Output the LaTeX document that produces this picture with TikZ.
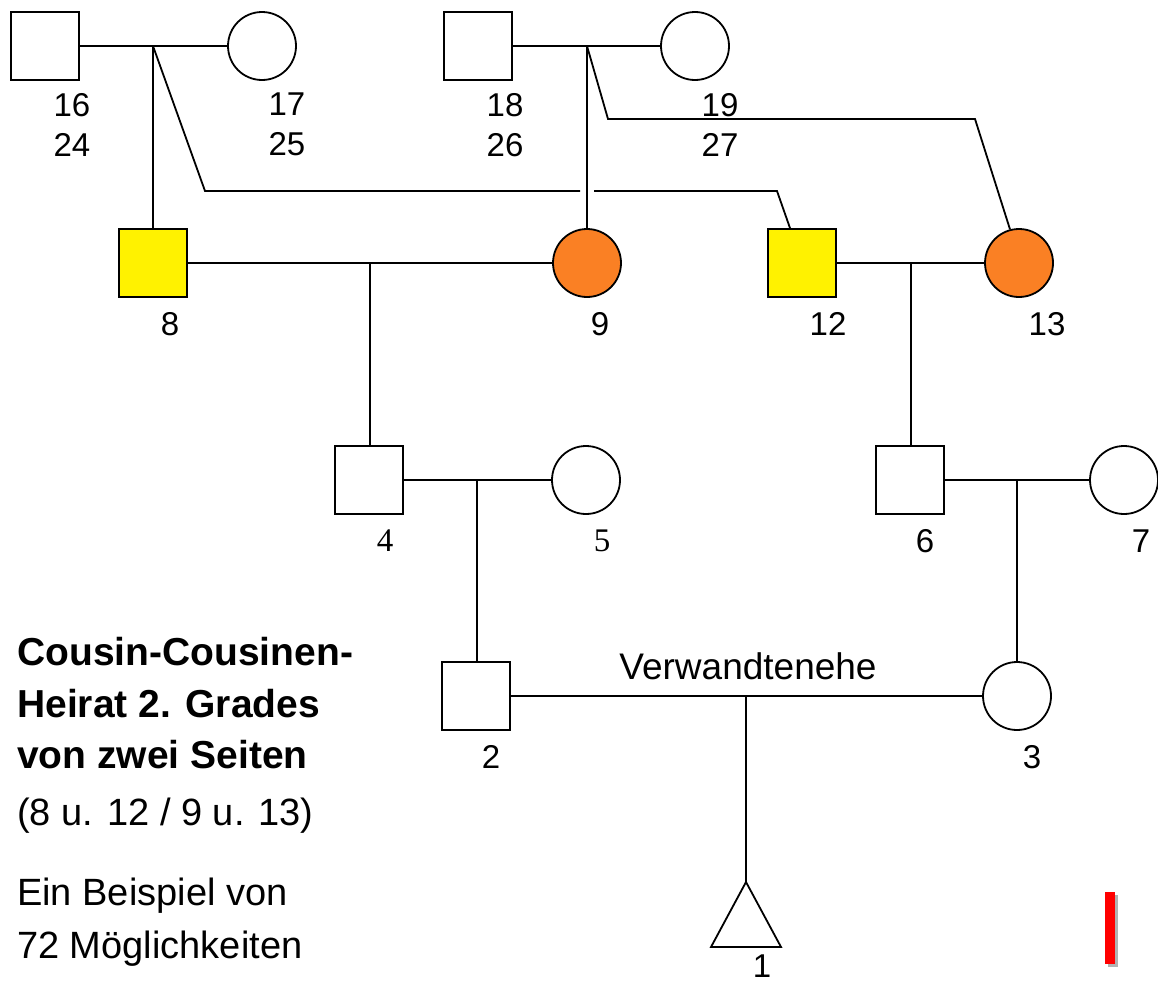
\documentclass[tikz,border=0pt]{standalone}
\usepackage{fontspec}
\setmainfont{Liberation Sans}
\newfontfamily\serifnum{Liberation Serif}
\usepackage{xcolor}
\definecolor{genyellow}{RGB}{255,242,0}
\definecolor{genorange}{RGB}{250,128,36}

\tikzset{
  male/.style={draw, rectangle, minimum size=68pt, inner sep=0pt, line width=1.8pt},
  female/.style={draw, circle, minimum size=68pt, inner sep=0pt, line width=1.8pt},
  num/.style={inner sep=0pt, font=\fontsize{33}{40}\selectfont, align=center},
  rel/.style={line width=1.8pt},
  note/.style={inner sep=0pt, anchor=base west, font=\fontsize{38}{46}\selectfont},
}

\begin{document}
\begin{tikzpicture}[x=1pt,y=-1pt]
\useasboundingbox (0,0) rectangle (1158,985);

% great-grandparents
\node[male] (n16) at (45,46) {};
\node[female] (n17) at (262,46) {};
\node[male] (n18) at (478,46) {};
\node[female] (n19) at (695,46) {};
\node[num,anchor=north] (l16) at (72,93) {16\\24};
\node[num,anchor=north] (l17) at (287,93) {17\\25};
\node[num,anchor=north] (l18) at (505,93) {18\\26};
\node[num,anchor=north] (l19) at (720,93) {19\\27};

% grandparents
\node[male,fill=genyellow] (n8) at (153,263) {};
\node[female,fill=genorange] (n9) at (587,263) {};
\node[male,fill=genyellow] (n12) at (802,263) {};
\node[female,fill=genorange] (n13) at (1019,263) {};
\node[num] (l8) at (170,324) {8};
\node[num] (l9) at (600,324) {9};
\node[num] (l12) at (828,324) {12};
\node[num] (l13) at (1047,324) {13};

% parents
\node[male] (n4) at (369,480) {};
\node[female] (n5) at (586,480) {};
\node[male] (n6) at (910,480) {};
\node[female] (n7) at (1124,480) {};
\node[num,font=\fontsize{33}{40}\serifnum] (l4) at (385,541) {4};
\node[num,font=\fontsize{33}{40}\serifnum] (l5) at (602,541) {5};
\node[num] (l6) at (925,541) {6};
\node[num] (l7) at (1141,541) {7};

% consanguineous couple and child
\node[male] (n2) at (476,696) {};
\node[female] (n3) at (1017,696) {};
\node[num] (l2) at (491,757) {2};
\node[num] (l3) at (1032,757) {3};
\node[inner sep=0pt, anchor=base, font=\fontsize{37}{44}\selectfont] (ehe) at (748,679) {Verwandtenehe};
\coordinate (n1) at (746,882);
\draw[rel, line join=miter] (n1) -- (711,947) -- (781,947) -- cycle;
\node[num] (l1) at (762,966) {1};

% marriage lines
\coordinate (m1617) at (153,46);
\coordinate (m1819) at (587,46);
\coordinate (m89) at (370,263);
\coordinate (m1213) at (911,263);
\coordinate (m45) at (477,480);
\coordinate (m67) at (1017,480);
\coordinate (m23) at (746,696);
\draw[rel] (n16) -- (n17);
\draw[rel] (n18) -- (n19);
\draw[rel] (n8) -- (n9);
\draw[rel] (n12) -- (n13);
\draw[rel] (n4) -- (n5);
\draw[rel] (n6) -- (n7);
\draw[rel] (n2) -- (n3);

% descent lines
\draw[rel] (m1617) -- (n8.north);
\draw[rel] (m1617) -- (205,191) -- (580,191);
\draw[rel] (594,191) -- (777,191) -- ([xshift=-12pt]n12.north);
\draw[rel] (m1819) -- (n9.north);
\draw[rel] (m1819) -- (608,119) -- (975,119) -- (n13.105);
\draw[rel] (m89) -- (n4.north -| m89);
\draw[rel] (m1213) -- (n6.north -| m1213);
\draw[rel] (m45) -- (n2.north -| m45);
\draw[rel] (m67) -- (n3.north);
\draw[rel] (m23) -- (n1);

% caption
\node[note,font=\fontsize{39}{46}\bfseries] (t1) at (17,665) {Cousin-Cousinen-};
\node[note,font=\fontsize{39}{46}\bfseries] (t2) at (17,717) {Heirat 2. Grades};
\node[note,font=\fontsize{39}{46}\bfseries] (t3) at (17,768) {von zwei Seiten};
\node[note] (t4) at (17,825) {(8 u. 12 / 9 u. 13)};
\node[note] (t5) at (17,905) {Ein Beispiel von};
\node[note] (t6) at (17,958) {72 Möglichkeiten};

% marker
\fill[black!30] (1108,895) rectangle (1118,967);
\fill[red] (1105,892) rectangle (1115,964);
\end{tikzpicture}
\end{document}
